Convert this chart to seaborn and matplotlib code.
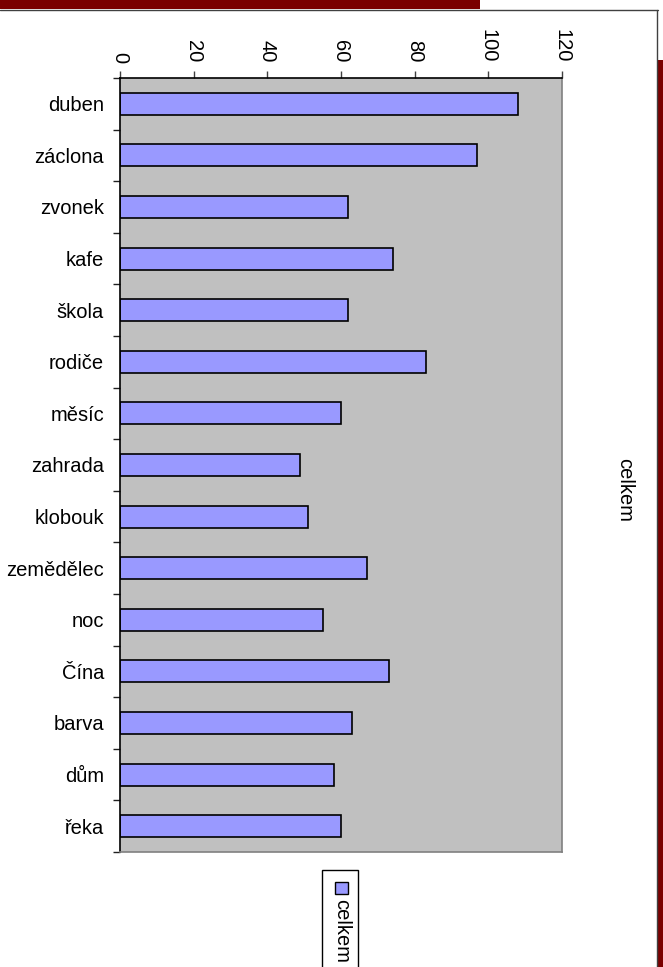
import numpy as np
import pandas as pd
import seaborn as sns
import matplotlib.pyplot as plt
from matplotlib.patches import Rectangle

# data
slova = ["duben", "záclona", "zvonek", "kafe", "škola", "rodiče", "měsíc", "zahrada",
         "klobouk", "zemědělec", "noc", "Čína", "barva", "dům", "řeka"]
celkem = [108, 97, 62, 74, 62, 83, 60, 49, 51, 67, 55, 73, 63, 58, 60]
serie = "celkem"
xticks = [0, 20, 40, 60, 80, 100, 120]

sns.set_style("white")
plt.rcParams['font.family'] = ['Liberation Sans', 'DejaVu Sans']
plt.rcParams['text.color'] = 'black'
plt.rcParams['xtick.labelcolor'] = 'black'
plt.rcParams['ytick.labelcolor'] = 'black'

W, H = 663, 967
fig = plt.figure(figsize=(W / 100, H / 100), dpi=100)

# slide background pieces
cervena = '#7a0000'
fig.patches.append(Rectangle((0, 1 - 9 / H), 480 / W, 9 / H, transform=fig.transFigure,
                             facecolor=cervena, edgecolor='none', zorder=0))
fig.patches.append(Rectangle((657.5 / W, 0), 6 / W, 1 - 60 / H, transform=fig.transFigure,
                             facecolor=cervena, edgecolor='none', zorder=0))
# chart area border
fig.add_artist(plt.Line2D([0, 658 / W], [1 - 9.5 / H, 1 - 9.5 / H], transform=fig.transFigure,
                          color='#404040', lw=1))
fig.add_artist(plt.Line2D([657 / W, 657 / W], [0, 1 - 9.5 / H], transform=fig.transFigure,
                          color='#404040', lw=1))

ax = fig.add_axes([120 / W, 1 - 852 / H, 442 / W, 774 / H])
ax.set_facecolor('#C0C0C0')

df = pd.DataFrame({"slovo": slova, serie: celkem})
sns.barplot(data=df, x=serie, y="slovo", orient='h', color='#9999FF', saturation=1,
            edgecolor='black', linewidth=1.2, width=0.43, ax=ax)

ax.set_xlim(0, 120)
ax.set_ylim(len(slova) - 0.5, -0.5)
ax.set_xlabel('')
ax.set_ylabel('')

ax.xaxis.tick_top()
ax.set_xticks(xticks)
ax.set_xticklabels([str(v) for v in xticks])
ax.tick_params(axis='x', top=True, bottom=False, direction='out', length=5, width=1,
               labelsize=14.5, labelrotation=-90, pad=6, color='#404040')

ax.set_yticks(range(len(slova)))
ax.set_yticklabels(slova)
ax.set_yticks(np.arange(-0.5, len(slova), 1), minor=True)
ax.tick_params(axis='y', which='major', left=True, length=0, pad=11.5, labelsize=14.5)
ax.tick_params(axis='y', which='minor', left=True, direction='out', length=5, width=1,
               color='#202020')

ax.spines['top'].set_color('black')
ax.spines['left'].set_color('black')
ax.spines['right'].set_color('#808080')
ax.spines['bottom'].set_color('#808080')
for s in ax.spines.values():
    s.set_linewidth(1.2)
    s.set_visible(True)

# chart title on the right, rotated like the rest
fig.text(625 / W, 1 - 490 / H, serie, rotation=-90, ha='center', va='center', fontsize=14.5)

# legend box at the bottom
fig.patches.append(Rectangle((322 / W, -0.01), 36 / W, (0.01 + 1 - 870 / H), transform=fig.transFigure,
                             facecolor='white', edgecolor='black', lw=1, zorder=2))
fig.patches.append(Rectangle((335 / W, 1 - 894 / H), 13 / W, 12 / H, transform=fig.transFigure,
                             facecolor='#9999FF', edgecolor='black', lw=1, zorder=3))
fig.text(342 / W, 1 - 899 / H, serie, rotation=-90, ha='center', va='top', fontsize=14.5, zorder=4)

plt.savefig('out.png', dpi=100)
plt.close()
